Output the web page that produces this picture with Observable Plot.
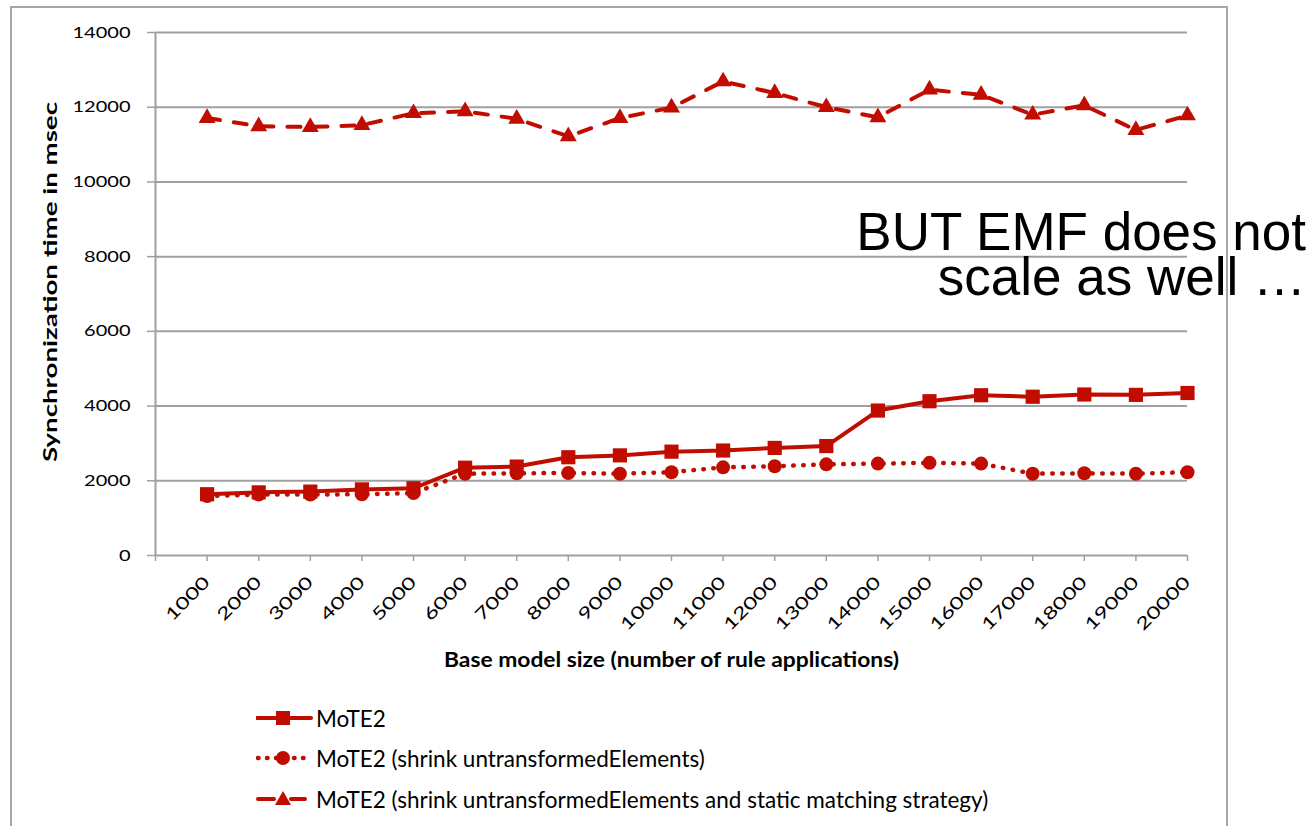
<!DOCTYPE html>
<html>
<head>
<meta charset="utf-8">
<script src="https://cdn.jsdelivr.net/npm/d3@7"></script>
<script src="https://cdn.jsdelivr.net/npm/@observablehq/plot@0.6"></script>
<style>
  html, body { margin: 0; padding: 0; background: #fff; overflow: hidden; }
  #page { position: relative; width: 1313px; height: 826px; }
  #frame { position: absolute; left: 10px; top: 6px; width: 1218px; height: 900px;
           border: 2px solid #a6a6a6; box-sizing: border-box; }
  #chart { position: absolute; left: 0; top: 0; }
  #legend { position: absolute; left: 256px; top: 700px; font-family: Lato, "Noto Sans", sans-serif;
            font-size: 22.5px; color: #000; }
  .row { position: absolute; left: 0; height: 24px; display: flex; align-items: center; white-space: nowrap; }
  .row svg { width: 58px; height: 24px; margin-right: 2px; flex: none; }
  #note { position: absolute; left: 0; top: 0; pointer-events: none; }
  #note text { font-family: "Liberation Sans", Arial, sans-serif; font-size: 53px; fill: #000; }
</style>
</head>
<body>
<div id="page">
  <div id="frame"></div>
  <div id="chart"></div>
  <div id="legend"></div>
  <svg id="note" width="1313" height="826">
    <text text-anchor="end"><tspan x="1306" y="250">BUT EMF does not</tspan><tspan x="1306" y="295">scale as well …</tspan></text>
  </svg>
</div>
<script>
const sizes = [1000, 2000, 3000, 4000, 5000, 6000, 7000, 8000, 9000, 10000,
               11000, 12000, 13000, 14000, 15000, 16000, 17000, 18000, 19000, 20000];
const mote2 = [1640, 1690, 1710, 1770, 1800, 2350, 2380, 2630, 2680, 2780,
               2810, 2880, 2930, 3880, 4130, 4290, 4250, 4310, 4300, 4350];
const mote2Shrink = [1590, 1630, 1630, 1640, 1670, 2190, 2200, 2210, 2190, 2230,
                     2360, 2390, 2440, 2460, 2480, 2460, 2190, 2200, 2190, 2230];
const mote2Static = [11710, 11490, 11470, 11520, 11840, 11890, 11690, 11220, 11710, 11990,
                     12690, 12380, 12000, 11730, 12470, 12330, 11800, 12050, 11390, 11780];
const seriesNames = ["MoTE2", "MoTE2 (shrink untransformedElements)",
                     "MoTE2 (shrink untransformedElements and static matching strategy)"];
const yTicks = [0, 2000, 4000, 6000, 8000, 10000, 12000, 14000];
const xTicks = [0, ...sizes];
const xTitle = "Base model size (number of rule applications)";
const yTitle = "Synchronization time in msec";

const RED = "#c00d00";
const GRID = "#a0a0a0";
const FONT = "Lato, 'Noto Sans', sans-serif";

const rows = (vals) => sizes.map((s, i) => ({x: s, y: vals[i]}));
const d1 = rows(mote2), d2 = rows(mote2Shrink), d3s = rows(mote2Static);

const chart = Plot.plot({
  width: 1313,
  height: 690,
  marginLeft: 155,
  marginRight: 126,
  marginTop: 32,
  marginBottom: 135,
  style: {fontFamily: FONT, fontSize: "17px", color: "#000", background: "transparent", overflow: "visible"},
  x: {type: "linear", domain: [0, 20000]},
  y: {domain: [0, 14000]},
  marks: [
    Plot.gridY(yTicks.filter(d => d > 0), {stroke: GRID, strokeOpacity: 1, strokeWidth: 2}),
    Plot.ruleX([0], {stroke: GRID, strokeWidth: 2}),
    Plot.ruleY([0], {stroke: GRID, strokeWidth: 2}),
    Plot.axisY({ticks: yTicks, tickFormat: d => String(d), tickSize: 8, tickPadding: 17,
                stroke: GRID, strokeWidth: 1.5, label: null, fontSize: 16}),
    Plot.axisX({ticks: xTicks, tickFormat: d => d === 0 ? "" : String(d), tickRotate: -45,
                tickSize: 6, tickPadding: 18, stroke: GRID, strokeWidth: 1.5, label: null, fontSize: 17}),
    Plot.text([xTitle], {frameAnchor: "bottom", dy: 111, fontWeight: "bold", fontSize: 20, fill: "#000"}),
    Plot.text([yTitle], {frameAnchor: "left", textAnchor: "middle", rotate: -90, dx: -105, dy: -12,
                         fontWeight: "bold", fontSize: 19, fill: "#000"}),
    // Series 1
    Plot.line(d1, {x: "x", y: "y", stroke: RED, strokeWidth: 4, strokeLinejoin: "round"}),
    Plot.dot(d1, {x: "x", y: "y", symbol: "square", r: 8, fill: RED, stroke: "none"}),
    // Series 2
    Plot.line(d2, {x: "x", y: "y", stroke: RED, strokeWidth: 4.5, strokeDasharray: "0.5,9.5", strokeLinecap: "round"}),
    Plot.dot(d2, {x: "x", y: "y", symbol: "circle", r: 7, fill: RED, stroke: "none"}),
    // Series 3
    Plot.line(d3s, {x: "x", y: "y", stroke: RED, strokeWidth: 4, strokeDasharray: "13,14", strokeLinecap: "round"}),
    Plot.dot(d3s, {x: "x", y: "y", symbol: "triangle", r: 6.3, fill: RED, stroke: "none"})
  ]
});
document.getElementById("chart").appendChild(chart);

// Widen texts to the reference's proportions
const svg = d3.select(chart);
svg.selectAll('g[aria-label="y-axis tick label"] text').each(function() {
  const n = this.textContent.length;
  this.setAttribute("textLength", n * 11.6);
  this.setAttribute("lengthAdjust", "spacingAndGlyphs");
});
svg.selectAll('g[aria-label="x-axis tick label"] text').each(function() {
  const n = this.textContent.length;
  if (n > 0) {
    this.setAttribute("textLength", n * 13.6);
    this.setAttribute("lengthAdjust", "spacingAndGlyphs");
  }
});
svg.selectAll("text").each(function() {
  if (this.textContent === xTitle) { this.setAttribute("textLength", 455); this.setAttribute("lengthAdjust", "spacingAndGlyphs"); }
  if (this.textContent === yTitle) { this.setAttribute("textLength", 360); this.setAttribute("lengthAdjust", "spacingAndGlyphs"); }
});

// Legend
const legend = document.getElementById("legend");
const icons = [
  `<line x1="1" y1="12" x2="55" y2="12" stroke="${RED}" stroke-width="4" stroke-linecap="round"/>
   <rect x="20" y="5" width="14" height="14" fill="${RED}"/>`,
  `<line x1="2" y1="12" x2="48" y2="12" stroke="${RED}" stroke-width="4.5" stroke-dasharray="0.5,8.5" stroke-linecap="round"/>
   <circle cx="27" cy="12" r="7" fill="${RED}"/>`,
  `<line x1="2" y1="12" x2="18" y2="12" stroke="${RED}" stroke-width="4" stroke-linecap="round"/>
   <line x1="35" y1="12" x2="49" y2="12" stroke="${RED}" stroke-width="4" stroke-linecap="round"/>
   <path d="M27,4 L35,18 L19,18 Z" fill="${RED}"/>`
];
const rowTops = [6, 46, 87];
seriesNames.forEach((name, i) => {
  const row = document.createElement("div");
  row.className = "row";
  row.style.top = rowTops[i] + "px";
  row.innerHTML = `<svg viewBox="0 0 58 24">${icons[i]}</svg><span>${name}</span>`;
  legend.appendChild(row);
});
</script>
</body>
</html>
